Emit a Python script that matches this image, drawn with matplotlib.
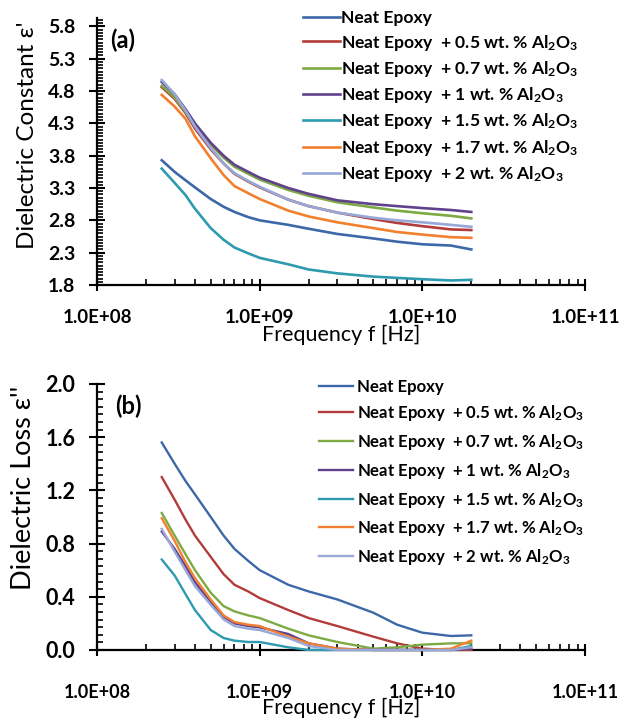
import matplotlib
matplotlib.use("Agg")
import matplotlib.pyplot as plt
from matplotlib.ticker import FixedLocator, MultipleLocator, LogLocator, NullFormatter, FuncFormatter

plt.rcParams['font.family'] = ['Lato', 'DejaVu Sans']
plt.rcParams['mathtext.fontset'] = 'custom'
plt.rcParams['mathtext.rm'] = 'Lato:bold'
plt.rcParams['mathtext.it'] = 'Lato:bold:italic'
plt.rcParams['mathtext.bf'] = 'Lato:bold'

freq = [2.5e8, 3e8, 3.5e8, 4e8, 5e8, 6e8, 7e8, 8.5e8, 1e9, 1.5e9, 2e9, 3e9, 5e9, 7e9, 1e10, 1.5e10, 2e10]

labels = [
    "Neat Epoxy",
    "Neat Epoxy  + 0.5 wt. % Al$_2$O$_3$",
    "Neat Epoxy  + 0.7 wt. % Al$_2$O$_3$",
    "Neat Epoxy  + 1 wt. % Al$_2$O$_3$",
    "Neat Epoxy  + 1.5 wt. % Al$_2$O$_3$",
    "Neat Epoxy  + 1.7 wt. % Al$_2$O$_3$",
    "Neat Epoxy  + 2 wt. % Al$_2$O$_3$",
]
colors = ["#3D68A8", "#B23C3A", "#7DAA42", "#60428C", "#2E9AB0", "#F2802F", "#97A8D9"]

# Dielectric constant (a)
eps_neat = [3.73, 3.55, 3.42, 3.31, 3.13, 3.01, 2.93, 2.85, 2.80, 2.73, 2.67, 2.59, 2.52, 2.47, 2.43, 2.41, 2.35]
eps_05   = [4.86, 4.68, 4.46, 4.22, 3.90, 3.68, 3.52, 3.40, 3.31, 3.12, 3.02, 2.92, 2.82, 2.76, 2.71, 2.66, 2.65]
eps_07   = [4.88, 4.70, 4.48, 4.26, 3.97, 3.77, 3.63, 3.52, 3.43, 3.27, 3.18, 3.08, 3.00, 2.95, 2.91, 2.87, 2.83]
eps_1    = [4.94, 4.75, 4.52, 4.30, 4.00, 3.80, 3.66, 3.55, 3.46, 3.30, 3.21, 3.11, 3.05, 3.02, 2.99, 2.96, 2.93]
eps_15   = [3.60, 3.38, 3.19, 2.98, 2.68, 2.50, 2.38, 2.29, 2.22, 2.12, 2.04, 1.98, 1.93, 1.91, 1.89, 1.87, 1.88]
eps_17   = [4.74, 4.56, 4.37, 4.10, 3.76, 3.50, 3.33, 3.22, 3.13, 2.95, 2.86, 2.77, 2.68, 2.62, 2.58, 2.54, 2.53]
eps_2    = [4.97, 4.75, 4.50, 4.25, 3.92, 3.68, 3.53, 3.41, 3.32, 3.12, 3.02, 2.92, 2.84, 2.80, 2.77, 2.73, 2.70]

# Dielectric loss (b)
loss_neat = [1.56, 1.40, 1.27, 1.17, 1.00, 0.86, 0.76, 0.67, 0.60, 0.49, 0.44, 0.38, 0.28, 0.19, 0.13, 0.105, 0.11]
loss_05   = [1.30, 1.13, 0.98, 0.86, 0.70, 0.57, 0.49, 0.44, 0.39, 0.30, 0.24, 0.18, 0.10, 0.05, 0.01, 0.0, 0.0]
loss_07   = [1.03, 0.86, 0.72, 0.60, 0.43, 0.33, 0.29, 0.26, 0.24, 0.16, 0.11, 0.06, 0.01, 0.02, 0.04, 0.05, 0.05]
loss_1    = [0.89, 0.76, 0.63, 0.51, 0.36, 0.25, 0.20, 0.18, 0.17, 0.12, 0.05, 0.01, 0.0, 0.0, 0.0, 0.0, 0.01]
loss_15   = [0.68, 0.56, 0.42, 0.30, 0.15, 0.09, 0.07, 0.06, 0.06, 0.02, 0.0, 0.0, 0.0, 0.0, 0.0, 0.0, 0.03]
loss_17   = [0.99, 0.82, 0.66, 0.54, 0.38, 0.26, 0.21, 0.19, 0.18, 0.10, 0.05, 0.01, 0.0, 0.0, 0.0, 0.01, 0.07]
loss_2    = [0.91, 0.74, 0.60, 0.48, 0.34, 0.23, 0.18, 0.16, 0.15, 0.09, 0.03, 0.0, 0.0, 0.0, 0.0, 0.0, 0.02]

eps_series = [eps_neat, eps_05, eps_07, eps_1, eps_15, eps_17, eps_2]
loss_series = [loss_neat, loss_05, loss_07, loss_1, loss_15, loss_17, loss_2]

xticks = [1e8, 1e9, 1e10, 1e11]
xticklabels = ["1.0E+08", "1.0E+09", "1.0E+10", "1.0E+11"]
yt1 = [1.8, 2.3, 2.8, 3.3, 3.8, 4.3, 4.8, 5.3, 5.8]
yt2 = [0.0, 0.4, 0.8, 1.2, 1.6, 2.0]

fig = plt.figure(figsize=(6.26, 7.19), dpi=100)
ax1 = fig.add_axes([0.155, 0.6036, 0.7795, 0.3714])
ax2 = fig.add_axes([0.155, 0.096, 0.7795, 0.370])


def style(ax, ymin, ymax, major, minor, ylabel, ysize, xsize, ytick_size, xtick_size,
          xpad, xlab_y, ylab_x, ylab_y):
    ax.set_xscale('log')
    ax.set_xlim(1e8, 1e11)
    ax.set_ylim(ymin, ymax)
    for s in ['top', 'right']:
        ax.spines[s].set_visible(False)
    for s in ['left', 'bottom']:
        ax.spines[s].set_linewidth(1.6)
    ax.xaxis.set_major_locator(FixedLocator(xticks))
    ax.set_xticklabels(xticklabels)
    ax.xaxis.set_minor_locator(LogLocator(base=10, subs=range(2, 10)))
    ax.xaxis.set_minor_formatter(NullFormatter())
    ax.yaxis.set_major_locator(FixedLocator(major))
    ax.yaxis.set_minor_locator(MultipleLocator(minor))
    ax.yaxis.set_major_formatter(FuncFormatter(lambda v, p: "{:.1f}".format(v)))
    ax.tick_params(axis='y', which='major', direction='inout', length=11.5, width=1.5,
                   labelsize=ytick_size, pad=10)
    ax.tick_params(axis='x', which='major', direction='inout', length=9, width=1.5,
                   labelsize=xtick_size, pad=xpad)
    ax.tick_params(axis='both', which='minor', direction='in', length=4.5, width=1.2)
    for lab in ax.get_xticklabels() + ax.get_yticklabels():
        lab.set_fontweight('bold')
    ax.set_xlabel("Frequency f [Hz]", fontsize=xsize, va='center')
    ax.xaxis.set_label_coords(0.5, xlab_y)
    ax.set_ylabel(ylabel, fontsize=ysize, va='center')
    ax.yaxis.set_label_coords(ylab_x, ylab_y)


for s, c, l in zip(eps_series, colors, labels):
    ax1.plot(freq, s, color=c, lw=1.9, label=l, clip_on=False, zorder=3)
for s, c, l in zip(loss_series, colors, labels):
    ax2.plot(freq, s, color=c, lw=1.7, label=l, clip_on=False, zorder=3)

style(ax1, 1.8, 5.93, yt1, 0.05, "Dielectric Constant \u03b5'", 17.5, 15.5, 14, 13.5,
      13, -0.187, -0.142, 0.562)
style(ax2, 0.0, 2.0, yt2, 0.4 / 7, "Dielectric Loss \u03b5''", 19.5, 15.5, 15.5, 13,
      20, -0.218, -0.15, 0.609)

ax1.text(0.027, 0.918, "(a)", transform=ax1.transAxes, fontsize=17, fontweight='bold', va='center')
ax2.text(0.037, 0.917, "(b)", transform=ax2.transAxes, fontsize=17, fontweight='bold', va='center')

ax1.legend(loc='upper left', bbox_to_anchor=(0.422, 1.029), handlelength=2.1,
           frameon=False, prop={'weight': 'bold', 'size': 12.6}, handletextpad=0.1,
           labelspacing=0.36, borderaxespad=0, borderpad=0)
ax2.legend(loc='upper left', bbox_to_anchor=(0.455, 1.02), handlelength=2.0,
           frameon=False, prop={'weight': 'bold', 'size': 12.1}, handletextpad=0.25,
           labelspacing=0.52, borderaxespad=0, borderpad=0)

fig.savefig("out.png", dpi=100)
